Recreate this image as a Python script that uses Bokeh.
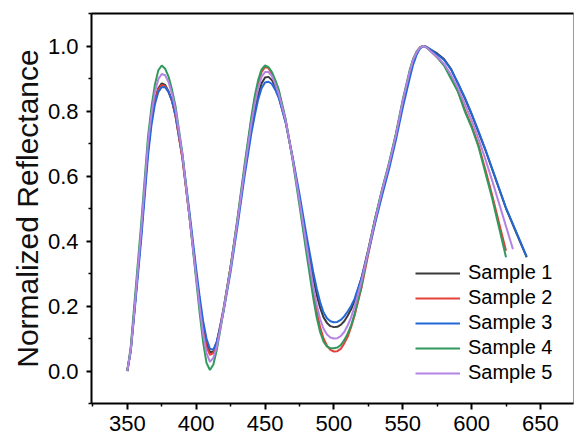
from bokeh.plotting import figure
from bokeh.models import FixedTicker, PrintfTickFormatter, LinearAxis
from bokeh.embed import file_html
from bokeh.resources import INLINE

wavelength = [350, 352.5, 355, 360, 365, 367.5, 370, 372.5, 375, 377.5,
              380, 382.5, 385, 390, 395, 400, 402.5, 405, 407.5, 410,
              412.5, 415, 417.5, 420, 425, 430, 435, 440, 442.5, 445,
              447.5, 450, 452.5, 455, 457.5, 460, 465, 470, 475, 480,
              485, 487.5, 490, 492.5, 495, 497.5, 500, 502.5, 505, 507.5,
              510, 512.5, 515, 520, 525, 530, 535, 540, 545, 550,
              555, 557.5, 560, 562.5, 565, 567.5, 570, 575, 580, 585,
              590, 595, 600, 605, 610, 615, 620, 625, 630, 635,
              640]

sample1 = [0.0, 0.065, 0.18, 0.42, 0.68, 0.77, 0.835, 0.87, 0.885, 0.88,
           0.86, 0.83, 0.785, 0.655, 0.48, 0.30, 0.215, 0.14, 0.085, 0.058,
           0.06, 0.09, 0.14, 0.195, 0.32, 0.46, 0.61, 0.745, 0.80, 0.85,
           0.885, 0.903, 0.905, 0.895, 0.875, 0.845, 0.765, 0.655, 0.53, 0.40,
           0.285, 0.235, 0.195, 0.165, 0.148, 0.138, 0.135, 0.136, 0.142, 0.153,
           0.17, 0.19, 0.215, 0.285, 0.375, 0.47, 0.555, 0.635, 0.725, 0.825,
           0.915, 0.953, 0.978, 0.994, 1.0, 0.997, 0.99, 0.977, 0.96, 0.93,
           0.885, 0.84, 0.79, 0.735, 0.68, 0.62, 0.56, 0.50, 0.45, 0.40,
           0.35]
sample2 = [0.0, 0.065, 0.18, 0.42, 0.68, 0.77, 0.83, 0.866, 0.88, 0.876,
           0.858, 0.83, 0.785, 0.655, 0.48, 0.295, 0.205, 0.13, 0.075, 0.05,
           0.055, 0.085, 0.135, 0.19, 0.32, 0.465, 0.62, 0.77, 0.835, 0.885,
           0.92, 0.935, 0.932, 0.915, 0.89, 0.86, 0.77, 0.655, 0.525, 0.385,
           0.245, 0.185, 0.135, 0.10, 0.078, 0.065, 0.06, 0.061, 0.068, 0.085,
           0.105, 0.135, 0.17, 0.255, 0.36, 0.46, 0.55, 0.63, 0.725, 0.83,
           0.92, 0.958, 0.982, 0.996, 1.0, 0.995, 0.985, 0.965, 0.942, 0.905,
           0.862, 0.805, 0.755, 0.695, 0.62, 0.54, 0.455, 0.37]
sample3 = [0.0, 0.06, 0.17, 0.40, 0.66, 0.755, 0.82, 0.858, 0.874, 0.873,
           0.858, 0.832, 0.79, 0.665, 0.495, 0.315, 0.23, 0.155, 0.10, 0.068,
           0.066, 0.09, 0.135, 0.185, 0.305, 0.445, 0.595, 0.73, 0.785, 0.835,
           0.87, 0.888, 0.89, 0.883, 0.865, 0.84, 0.765, 0.66, 0.545, 0.42,
           0.305, 0.255, 0.212, 0.18, 0.162, 0.153, 0.15, 0.151, 0.157, 0.168,
           0.183, 0.20, 0.222, 0.285, 0.365, 0.455, 0.54, 0.62, 0.71, 0.81,
           0.90, 0.942, 0.972, 0.992, 1.0, 0.997, 0.99, 0.974, 0.957, 0.928,
           0.887, 0.842, 0.792, 0.738, 0.682, 0.622, 0.562, 0.502, 0.452, 0.402,
           0.352]
sample4 = [0.0, 0.075, 0.20, 0.45, 0.72, 0.81, 0.88, 0.925, 0.94, 0.93,
           0.905, 0.865, 0.815, 0.67, 0.48, 0.28, 0.18, 0.09, 0.025, 0.003,
           0.02, 0.065, 0.125, 0.19, 0.32, 0.47, 0.63, 0.78, 0.845, 0.895,
           0.928, 0.94, 0.935, 0.92, 0.895, 0.865, 0.775, 0.65, 0.51, 0.365,
           0.225, 0.165, 0.12, 0.09, 0.075, 0.07, 0.07, 0.072, 0.08, 0.095,
           0.115, 0.14, 0.175, 0.26, 0.37, 0.47, 0.56, 0.64, 0.73, 0.835,
           0.925, 0.96, 0.982, 0.996, 1.0, 0.995, 0.985, 0.965, 0.94, 0.90,
           0.86, 0.80, 0.75, 0.69, 0.61, 0.53, 0.44, 0.35]
sample5 = [0.0, 0.065, 0.18, 0.43, 0.70, 0.79, 0.858, 0.898, 0.914, 0.91,
           0.888, 0.852, 0.805, 0.665, 0.48, 0.29, 0.20, 0.115, 0.055, 0.028,
           0.04, 0.075, 0.13, 0.19, 0.315, 0.46, 0.615, 0.76, 0.82, 0.87,
           0.905, 0.92, 0.92, 0.907, 0.882, 0.852, 0.77, 0.655, 0.525, 0.39,
           0.26, 0.205, 0.16, 0.13, 0.112, 0.103, 0.10, 0.101, 0.107, 0.12,
           0.14, 0.165, 0.198, 0.275, 0.37, 0.465, 0.555, 0.635, 0.725, 0.83,
           0.92, 0.957, 0.98, 0.995, 1.0, 0.995, 0.985, 0.966, 0.945, 0.912,
           0.872, 0.822, 0.772, 0.715, 0.652, 0.585, 0.515, 0.445, 0.375]

names = ["Sample 1", "Sample 2", "Sample 3", "Sample 4", "Sample 5"]
colors = ["#3a3a3a", "#e5413b", "#2468d8", "#2f9a5c", "#b583e3"]
series = [sample1, sample2, sample3, sample4, sample5]

x_major = [350, 400, 450, 500, 550, 600, 650]
x_minor = [325, 375, 425, 475, 525, 575, 625, 675]
y_major = [0.0, 0.2, 0.4, 0.6, 0.8, 1.0]
y_minor = [-0.1, 0.1, 0.3, 0.5, 0.7, 0.9, 1.1]

FONT = "Liberation Sans"

p = figure(width=574, height=440, x_range=(324, 674), y_range=(-0.1, 1.1),
           output_backend="svg", toolbar_location=None,
           min_border_left=91, min_border_right=1, min_border_top=13,
           min_border_bottom=37)
p.background_fill_color = "white"
p.border_fill_color = "white"
p.grid.visible = False
p.outline_line_color = "#9a9a9a"
p.outline_line_width = 1

for vals, name, col in zip(series, names, colors):
    p.line(wavelength[:len(vals)], vals, line_color=col, line_width=2,
           legend_label=name)

xa = p.below[0]
ya = p.left[0]

top_axis = LinearAxis(ticker=FixedTicker(ticks=[]), major_tick_out=0,
                      major_tick_in=0, minor_tick_out=0, minor_tick_in=0,
                      axis_line_width=2, axis_line_color="black",
                      major_label_text_font_size="0px",
                      major_label_standoff=0)
p.add_layout(top_axis, "above")

xa.ticker = FixedTicker(ticks=x_major, minor_ticks=x_minor)
ya.ticker = FixedTicker(ticks=y_major, minor_ticks=y_minor)
ya.formatter = PrintfTickFormatter(format="%.1f")

for ax in (xa, ya):
    ax.axis_line_width = 2
    ax.axis_line_color = "black"
    ax.major_tick_line_width = 2
    ax.minor_tick_line_width = 1.5
    ax.major_tick_in = 0
    ax.minor_tick_in = 0
    ax.major_label_text_font = FONT
    ax.major_label_text_font_size = "22px"
    ax.major_label_text_color = "black"
    ax.axis_label_text_font = FONT
    ax.axis_label_text_font_style = "normal"

xa.major_tick_out = 6
xa.minor_tick_out = 3
xa.major_label_standoff = 6
ya.major_tick_out = 5
ya.minor_tick_out = 3
ya.major_label_standoff = 8
ya.axis_label = "Normalized Reflectance"
ya.axis_label_text_font_size = "30px"
ya.axis_label_standoff = 1
ya.axis_label_text_color = "#111111"

lg = p.legend[0]
lg.location = (324, 19)
lg.border_line_color = None
lg.background_fill_alpha = 0
lg.label_text_font = FONT
lg.label_text_font_size = "20px"
lg.label_text_color = "black"
lg.glyph_width = 45
lg.glyph_height = 20
lg.label_height = 20
lg.spacing = 2
lg.label_standoff = 8
lg.padding = 5
lg.margin = 0

open("out.html", "w").write(file_html(p, INLINE))
